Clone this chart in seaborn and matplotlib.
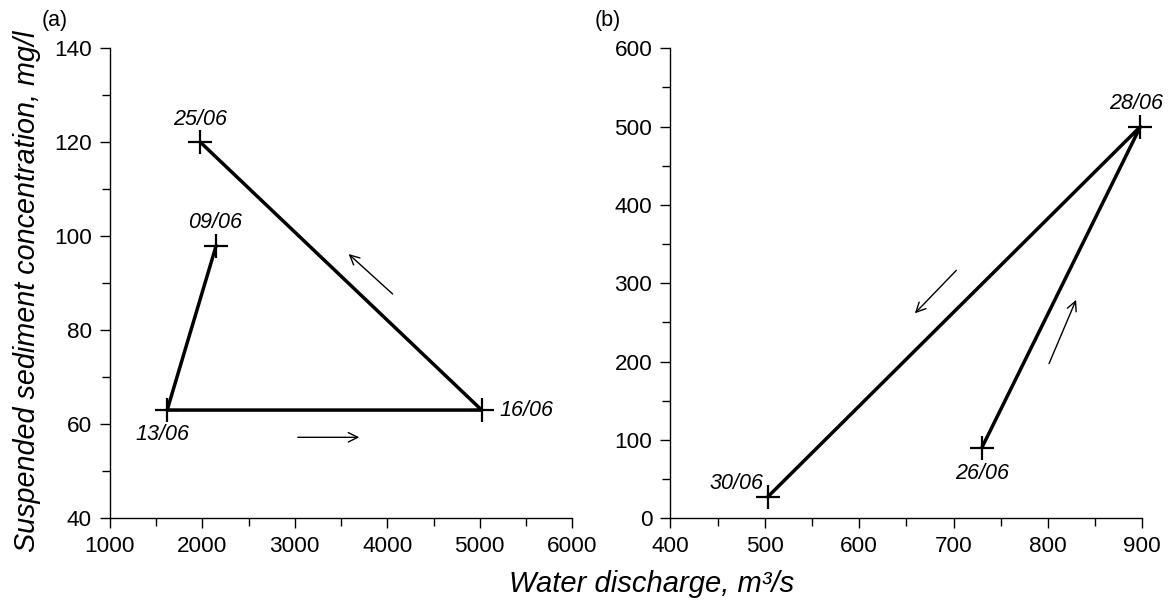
import matplotlib
matplotlib.use("Agg")
import matplotlib.pyplot as plt
import seaborn as sns
import numpy as np
import pandas as pd
from matplotlib.ticker import MultipleLocator

# panel (a): loop 09/06 -> 13/06 -> 16/06 -> 25/06
a_dates = ["09/06", "13/06", "16/06", "25/06"]
a_q = [2150, 1620, 5020, 1980]
a_ssc = [98, 63, 63, 120]

# panel (b): 26/06 -> 28/06 -> 30/06
b_dates = ["26/06", "28/06", "30/06"]
b_q = [730, 898, 503]
b_ssc = [90, 500, 27]

sns.set_style("ticks")
plt.rcParams['font.family'] = ['Liberation Sans', 'DejaVu Sans']
for k in ["text.color", "axes.labelcolor", "xtick.color", "ytick.color", "axes.edgecolor"]:
    plt.rcParams[k] = "black"

fig = plt.figure(figsize=(11.68, 6.11), dpi=100)
ax1 = fig.add_axes([0.094, 0.152, 0.396, 0.769])
ax2 = fig.add_axes([0.574, 0.152, 0.404, 0.769])

dfa = pd.DataFrame({"q": a_q, "ssc": a_ssc, "date": a_dates})
dfb = pd.DataFrame({"q": b_q, "ssc": b_ssc, "date": b_dates})

for ax, df in [(ax1, dfa), (ax2, dfb)]:
    sns.lineplot(data=df, x="q", y="ssc", sort=False, estimator=None,
                 color="black", lw=2.5, marker="+", ms=17, mew=1.6, mec="black", ax=ax)
    ax.set_xlabel("")
    ax.set_ylabel("")
    sns.despine(ax=ax)
    ax.tick_params(which="both", direction="out", length=7, width=1, labelsize=16.2, pad=6)
    ax.tick_params(which="minor", length=6)
    for s in ["left", "bottom"]:
        ax.spines[s].set_linewidth(1)

ax1.set_xlim(1000, 6000)
ax1.set_ylim(40, 140)
ax1.xaxis.set_major_locator(MultipleLocator(1000))
ax1.xaxis.set_minor_locator(MultipleLocator(500))
ax1.yaxis.set_major_locator(MultipleLocator(20))
ax1.yaxis.set_minor_locator(MultipleLocator(10))

ax2.set_xlim(400, 900)
ax2.set_ylim(0, 600)
ax2.xaxis.set_major_locator(MultipleLocator(100))
ax2.xaxis.set_minor_locator(MultipleLocator(50))
ax2.yaxis.set_major_locator(MultipleLocator(100))
ax2.yaxis.set_minor_locator(MultipleLocator(50))

for ax in (ax1, ax2):
    for ln in ax.lines:
        ln.set_clip_on(False)

lab = dict(fontsize=15.5, style="italic")
ax1.annotate("09/06", (2150, 98), xytext=(-1, 9), textcoords="offset points", ha="center", va="bottom", **lab)
ax1.annotate("13/06", (1620, 63), xytext=(-3.5, -10), textcoords="offset points", ha="center", va="top", **lab)
ax1.annotate("16/06", (5020, 63), xytext=(13, 0), textcoords="offset points", ha="left", va="center", **lab)
ax1.annotate("25/06", (1980, 120), xytext=(0, 9), textcoords="offset points", ha="center", va="bottom", **lab)
ax2.annotate("28/06", (898, 500), xytext=(-3, 9), textcoords="offset points", ha="center", va="bottom", **lab)
ax2.annotate("30/06", (503, 27), xytext=(-3, 2), textcoords="offset points", ha="right", va="bottom", **lab)
ax2.annotate("26/06", (730, 90), xytext=(0, -11), textcoords="offset points", ha="center", va="top", **lab)

arr = dict(arrowstyle="->", color="black", lw=1.0, mutation_scale=17)
ax1.annotate("", xy=(3727, 57.2), xytext=(3002, 57.2), arrowprops=arr)
ax1.annotate("", xy=(3560, 96.6), xytext=(4080, 87.3), arrowprops=arr)
ax2.annotate("", xy=(657, 259), xytext=(705, 319), arrowprops=arr)
ax2.annotate("", xy=(831, 282), xytext=(800, 194), arrowprops=arr)

fig.text(0.011, 0.524, "Suspended sediment concentration, mg/l", rotation=90,
         ha="left", va="center", fontsize=20.7, style="italic")
fig.text(0.558, 0.022, "Water discharge, m\u00b3/s", ha="center", va="bottom",
         fontsize=21, style="italic")
fig.text(0.036, 0.967, "(a)", ha="left", va="center", fontsize=15.5)
fig.text(0.509, 0.967, "(b)", ha="left", va="center", fontsize=15.5)

fig.savefig("out.png", dpi=100)
